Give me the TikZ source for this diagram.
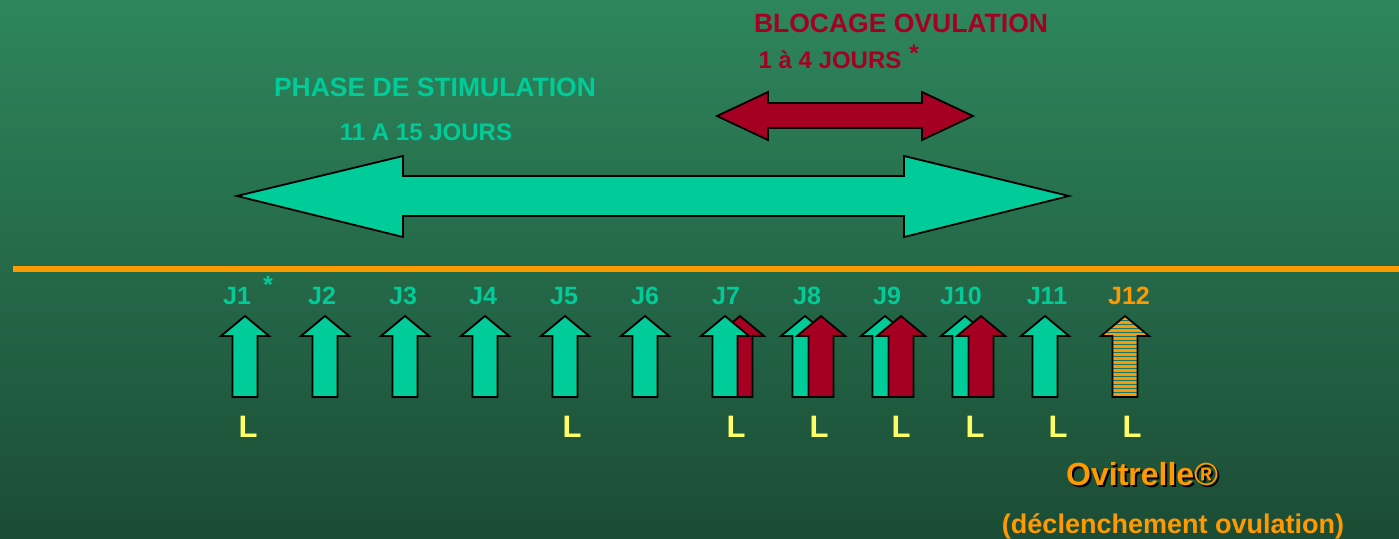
\documentclass[tikz,border=0pt]{standalone}
\usepackage{fontspec}
\setmainfont{Liberation Sans}
\usetikzlibrary{positioning}
\definecolor{stimvert}{RGB}{0,204,153}
\definecolor{blocrouge}{RGB}{165,0,33}
\definecolor{ovorange}{RGB}{255,153,0}
\definecolor{ljaune}{RGB}{255,255,102}
\definecolor{fondhaut}{RGB}{46,134,92}
\definecolor{fondbas}{RGB}{27,76,53}
\definecolor{raie}{RGB}{20,120,110}
\tikzstyle{contour}=[draw=black,line width=1.8pt,line join=miter]
\tikzstyle{stim}=[contour,fill=stimvert]
\tikzstyle{bloc}=[contour,fill=blocrouge]
\tikzstyle{txt}=[inner sep=0pt,anchor=base]
\tikzstyle{titre}=[txt,font=\fontsize{26.5}{30}\selectfont\bfseries]
\tikzstyle{sous titre}=[txt,font=\fontsize{24}{28}\selectfont\bfseries]
\tikzstyle{jour}=[txt,text=stimvert,font=\fontsize{25}{30}\selectfont\bfseries]
\tikzstyle{lettre}=[txt,text=ljaune,font=\fontsize{31}{34}\selectfont\bfseries]
\tikzstyle{ovi}=[txt,text=ovorange,font=\fontsize{32}{36}\selectfont\bfseries]
\tikzstyle{declench}=[txt,text=ovorange,font=\fontsize{27}{30}\selectfont\bfseries]
% up arrow, tip at (#1,316)
\newcommand{\fleche}[1]{(#1-12.5,397) -- (#1-12.5,336) -- (#1-24,336) -- (#1,316) -- (#1+24,336) -- (#1+12.5,336) -- (#1+12.5,397) -- cycle}
\begin{document}
\begin{tikzpicture}[x=1pt,y=-1pt]

\fill[top color=fondhaut,bottom color=fondbas] (0,0) rectangle (1399,538);
\useasboundingbox (0,0) rectangle (1399,538);

% phases
\node[titre,text=stimvert] (phase) at (435,96) {PHASE DE STIMULATION};
\node[sous titre,text=stimvert] (duree) at (426,140) {11 A 15 JOURS};
\node[titre,text=blocrouge] (blocage) at (901,32) {BLOCAGE OVULATION};
\node[sous titre,text=blocrouge] (jours) at (830,68) {1 à 4 JOURS};
\node[sous titre,text=blocrouge,anchor=north] (astb) at (914,45) {*};

\path[stim] (237,196) -- (403,156) -- (403,176) -- (904,176) -- (904,156) -- (1069,196)
  -- (904,237) -- (904,216) -- (403,216) -- (403,237) -- cycle;
\path[bloc] (717,116) -- (768,92) -- (768,103) -- (922,103) -- (922,92) -- (973,116)
  -- (922,140) -- (922,128) -- (768,128) -- (768,140) -- cycle;

\draw[ovorange,line width=6pt] (13,268.5) -- (1399,268.5);

% days
\foreach \x/\n in {237/1,322/2,403/3,483/4,564/5,645/6,726/7,807/8,887/9,961/10,1047/11}
  \node[jour] (j\n) at (\x,304) {J\n};
\node[jour,text=ovorange] (j12) at (1129,304) {J12};
\node[jour,anchor=north] (ast1) at (268,276) {*};

\path[bloc] \fleche{740};
\foreach \x in {245,325,...,1045}
  \path[stim] \fleche{\x};
\foreach \x in {821,901,981}
  \path[bloc] \fleche{\x};

% J12 striped arrow
\begin{scope}
  \fill[ovorange] \fleche{1125};
  \clip \fleche{1125};
  \foreach \y in {320,324,...,396}
    \draw[raie,line width=1pt] (1095,\y) -- (1155,\y);
\end{scope}
\draw[contour] \fleche{1125};

\foreach \x/\n in {248/1,572/5,736/7,819/8,901/9,975/10,1058/11,1132/12}
  \node[lettre] (l\n) at (\x,437) {L};

\node[ovi,text=black] (ovishadow) at (1144,487) {Ovitrelle®};
\node[ovi] (ovitrelle) at (1142,485) {Ovitrelle®};
\node[declench] (declenchement) at (1173,533) {(déclenchement ovulation)};

\end{tikzpicture}
\end{document}
